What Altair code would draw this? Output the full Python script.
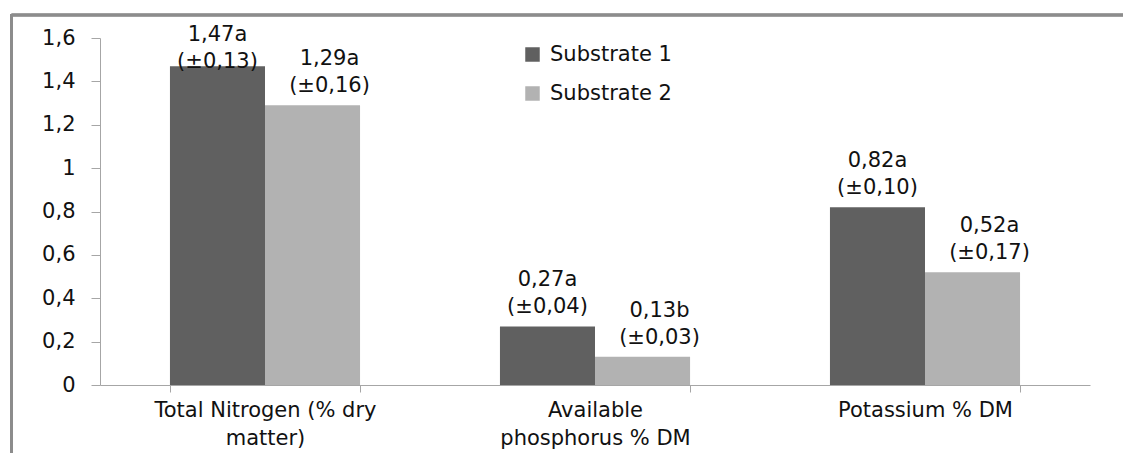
import altair as alt
import pandas as pd

# ---- data ----
categories = ["Total Nitrogen (% dry\nmatter)", "Available\nphosphorus % DM", "Potassium % DM"]
series = ["Substrate 1", "Substrate 2"]
values_s1 = [1.47, 0.27, 0.82]
values_s2 = [1.29, 0.13, 0.52]
letters_s1 = ["a", "a", "a"]
letters_s2 = ["a", "b", "a"]
sd_s1 = [0.13, 0.04, 0.10]
sd_s2 = [0.16, 0.03, 0.17]
y_ticks = [0, 0.2, 0.4, 0.6, 0.8, 1.0, 1.2, 1.4, 1.6]
colors = ["#606060", "#b2b2b2"]


def fmt(v):
    return f"{v:.2f}".replace(".", ",")


rows = []
for i, cat in enumerate(categories):
    for s, vals, lets, sds in [
        (series[0], values_s1, letters_s1, sd_s1),
        (series[1], values_s2, letters_s2, sd_s2),
    ]:
        rows.append(
            dict(
                category=cat,
                series=s,
                value=vals[i],
                label=f"{fmt(vals[i])}{lets[i]}\n(\u00b1{fmt(sds[i])})",
            )
        )
df = pd.DataFrame(rows)

FONT = "DejaVu Sans"
FS = 21
TXT = "#111111"
AXC = "#a6a6a6"

x_axis = alt.Axis(
    title=None,
    labelAngle=0,
    labelExpr="split(datum.label, '\\n')",
    labelLineHeight=28,
    labelFontSize=FS,
    labelFont=FONT,
    labelColor=TXT,
    labelLimit=1000,
    labelPadding=7,
    labelBaseline="top",
    tickBand="extent",
    tickSize=7,
    tickColor=AXC,
    domainColor=AXC,
    grid=False,
)
y_axis = alt.Axis(
    title=None,
    values=y_ticks,
    labelExpr="replace(format(datum.value, '~g'), '.', ',')",
    labelFontSize=FS,
    labelFont=FONT,
    labelColor=TXT,
    labelPadding=16,
    tickSize=9,
    tickColor=AXC,
    domainColor=AXC,
    grid=False,
)
x_scale = alt.Scale(paddingInner=0.424, paddingOuter=0.212)
xoff = alt.XOffset("series:N", sort=series, scale=alt.Scale(paddingInner=0, paddingOuter=0))
y_scale = alt.Scale(domain=[0, 1.6], nice=False)

bars = alt.Chart(df).mark_bar().encode(
    x=alt.X("category:N", sort=categories, scale=x_scale, axis=x_axis),
    xOffset=xoff,
    y=alt.Y("value:Q", scale=y_scale, axis=y_axis),
    color=alt.Color(
        "series:N",
        sort=series,
        scale=alt.Scale(domain=series, range=colors),
        legend=alt.Legend(
            title=None,
            orient="none",
            legendX=422,
            legendY=6,
            symbolType="square",
            symbolSize=210,
            symbolStrokeWidth=0,
            labelFontSize=FS,
            labelFont=FONT,
            labelColor=TXT,
            labelOffset=7,
            rowPadding=17,
            padding=0,
        ),
    ),
)


def text_layer(s, dx):
    return (
        alt.Chart(df)
        .transform_filter(alt.datum.series == s)
        .transform_calculate(label_y="min(datum.value, 1.40)")
        .mark_text(
            font=FONT,
            fontSize=FS,
            color=TXT,
            lineBreak="\n",
            lineHeight=27,
            baseline="middle",
            align="center",
            dy=-46,
            dx=dx,
        )
        .encode(
            x=alt.X("category:N", sort=categories, scale=x_scale, axis=x_axis),
            xOffset=xoff,
            y=alt.Y("label_y:Q", scale=y_scale, axis=y_axis),
            text="label:N",
        )
    )


top_border = alt.Chart(df).mark_rule(color="#8c8c8c", strokeWidth=2.5).encode(
    x=alt.value(-88.5), x2=alt.value(1040), y=alt.value(-23)
)
left_border = alt.Chart(df).mark_rule(color="#8c8c8c", strokeWidth=2.5).encode(
    x=alt.value(-88.5), y=alt.value(-24), y2=alt.value(440)
)

chart = (
    alt.layer(bars, text_layer(series[0], 0), text_layer(series[1], 17), top_border, left_border)
    .properties(
        width=990,
        height=347,
        background="white",
        autosize=alt.AutoSizeParams(type="none"),
        padding={"left": 92, "top": 30, "right": 33, "bottom": 68},
    )
    .configure_view(stroke="transparent", strokeWidth=0)
)

chart.save("out.html", embed_options={"renderer": "svg", "actions": False})
